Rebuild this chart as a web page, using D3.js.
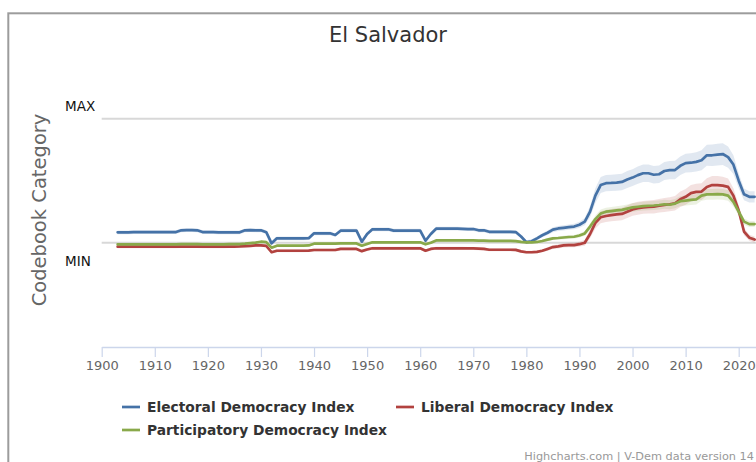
<!DOCTYPE html>
<html>
<head>
<meta charset="utf-8">
<script src="https://cdn.jsdelivr.net/npm/d3@7"></script>
<style>
  html, body { margin: 0; padding: 0; background: #fff; }
  svg { display: block; }
</style>
</head>
<body>
<div id="chart"></div>
<script>
// ---------------- DATA ----------------
const title = "El Salvador";
const yAxisTitle = "Codebook Category";
const firstYear = 1903;
const xTickYears = [1900, 1910, 1920, 1930, 1940, 1950, 1960, 1970, 1980, 1990, 2000, 2010, 2020];
const yTickValues = [0, 1];
const yTickLabels = ["MIN", "MAX"];
const seriesNames = ["Electoral Democracy Index", "Liberal Democracy Index", "Participatory Democracy Index"];
const seriesColors = ["#4572a7", "#b2423f", "#89a94a"];

// one value per year, 1903 .. 2023
const electoral = [
  0.084, 0.084, 0.084, 0.085, 0.085, 0.085, 0.085,                      // 1903-1909
  0.085, 0.085, 0.085, 0.085, 0.086, 0.100, 0.102, 0.102, 0.100, 0.086, // 1910-1919
  0.085, 0.085, 0.084, 0.084, 0.083, 0.083, 0.084, 0.100, 0.101, 0.100, // 1920-1929
  0.100, 0.085, -0.005, 0.035, 0.035, 0.035, 0.035, 0.035, 0.035, 0.036, // 1930-1939
  0.076, 0.076, 0.076, 0.076, 0.062, 0.097, 0.097, 0.097, 0.097, 0.008, // 1940-1949
  0.070, 0.108, 0.108, 0.108, 0.108, 0.097, 0.097, 0.097, 0.097, 0.097, // 1950-1959
  0.097, 0.016, 0.070, 0.113, 0.113, 0.113, 0.113, 0.113, 0.112, 0.110, // 1960-1969
  0.110, 0.100, 0.100, 0.088, 0.088, 0.088, 0.088, 0.088, 0.086, 0.050, // 1970-1979
  0.005, 0.012, 0.035, 0.060, 0.080, 0.105, 0.115, 0.120, 0.125, 0.130, // 1980-1989
  0.145, 0.170, 0.250, 0.380, 0.465, 0.480, 0.482, 0.485, 0.490, 0.510, // 1990-1999
  0.525, 0.545, 0.560, 0.560, 0.548, 0.552, 0.578, 0.585, 0.586, 0.620, // 2000-2009
  0.642, 0.645, 0.652, 0.665, 0.705, 0.705, 0.710, 0.715, 0.690, 0.630, // 2010-2019
  0.500, 0.390, 0.370, 0.370                                            // 2020-2023
];
const liberal = [
  -0.032, -0.032, -0.032, -0.032, -0.032, -0.032, -0.032,
  -0.032, -0.032, -0.032, -0.032, -0.032, -0.031, -0.031, -0.031, -0.031, -0.032,
  -0.032, -0.032, -0.032, -0.032, -0.031, -0.031, -0.030, -0.028, -0.025, -0.022,
  -0.021, -0.025, -0.077, -0.065, -0.065, -0.065, -0.065, -0.065, -0.065, -0.064,
  -0.059, -0.059, -0.059, -0.059, -0.059, -0.050, -0.050, -0.050, -0.050, -0.068,
  -0.055, -0.045, -0.045, -0.045, -0.045, -0.045, -0.045, -0.045, -0.045, -0.045,
  -0.045, -0.065, -0.050, -0.045, -0.045, -0.045, -0.045, -0.045, -0.045, -0.046,
  -0.046, -0.048, -0.050, -0.057, -0.057, -0.057, -0.057, -0.057, -0.058, -0.070,
  -0.077, -0.077, -0.074, -0.065, -0.050, -0.035, -0.030, -0.022, -0.020, -0.019,
  -0.012, 0.000, 0.070, 0.160, 0.205, 0.215, 0.222, 0.228, 0.232, 0.250,
  0.268, 0.278, 0.285, 0.288, 0.290, 0.298, 0.304, 0.310, 0.318, 0.350,
  0.370, 0.400, 0.410, 0.412, 0.450, 0.465, 0.465, 0.460, 0.450, 0.380,
  0.260, 0.090, 0.040, 0.025
];
const participatory = [
  -0.013, -0.013, -0.013, -0.013, -0.013, -0.013, -0.013,
  -0.013, -0.013, -0.013, -0.013, -0.013, -0.012, -0.012, -0.012, -0.012, -0.013,
  -0.013, -0.013, -0.013, -0.013, -0.012, -0.012, -0.011, -0.008, -0.004, 0.000,
  0.008, 0.005, -0.040, -0.024, -0.024, -0.024, -0.024, -0.024, -0.024, -0.022,
  -0.008, -0.008, -0.008, -0.008, -0.008, -0.006, -0.006, -0.006, -0.006, -0.024,
  -0.010, 0.003, 0.003, 0.003, 0.003, 0.003, 0.003, 0.003, 0.003, 0.003,
  0.003, -0.013, 0.000, 0.018, 0.018, 0.018, 0.018, 0.018, 0.018, 0.018,
  0.018, 0.017, 0.016, 0.014, 0.014, 0.014, 0.014, 0.014, 0.013, 0.006,
  0.003, 0.003, 0.006, 0.014, 0.025, 0.035, 0.038, 0.042, 0.046, 0.048,
  0.058, 0.075, 0.130, 0.190, 0.235, 0.250, 0.255, 0.260, 0.265, 0.275,
  0.285, 0.290, 0.295, 0.298, 0.300, 0.304, 0.310, 0.306, 0.315, 0.335,
  0.340, 0.345, 0.350, 0.380, 0.390, 0.390, 0.392, 0.390, 0.380, 0.330,
  0.250, 0.170, 0.150, 0.150
];
// half-width of the confidence band, one value per year, 1903 .. 2023
const electoralBand = [
  0.015, 0.015, 0.015, 0.015, 0.015, 0.015, 0.015,
  0.015, 0.015, 0.015, 0.015, 0.015, 0.015, 0.015, 0.015, 0.015, 0.015,
  0.015, 0.015, 0.015, 0.015, 0.015, 0.015, 0.015, 0.015, 0.015, 0.015,
  0.015, 0.015, 0.015, 0.015, 0.015, 0.015, 0.015, 0.015, 0.015, 0.015,
  0.015, 0.015, 0.015, 0.015, 0.015, 0.015, 0.015, 0.015, 0.015, 0.015,
  0.015, 0.015, 0.015, 0.015, 0.015, 0.015, 0.015, 0.015, 0.015, 0.015,
  0.015, 0.015, 0.015, 0.015, 0.015, 0.015, 0.015, 0.015, 0.015, 0.015,
  0.015, 0.015, 0.015, 0.015, 0.015, 0.015, 0.015, 0.015, 0.015, 0.015,
  0.015, 0.015, 0.016, 0.017, 0.018, 0.020, 0.020, 0.021, 0.021, 0.022,
  0.024, 0.030, 0.045, 0.060, 0.065, 0.066, 0.066, 0.067, 0.067, 0.068,
  0.068, 0.069, 0.070, 0.070, 0.070, 0.071, 0.072, 0.073, 0.074, 0.075,
  0.076, 0.077, 0.078, 0.080, 0.085, 0.086, 0.087, 0.088, 0.085, 0.075,
  0.060, 0.048, 0.045, 0.045
];
const liberalBand = [
  0.012, 0.012, 0.012, 0.012, 0.012, 0.012, 0.012,
  0.012, 0.012, 0.012, 0.012, 0.012, 0.012, 0.012, 0.012, 0.012, 0.012,
  0.012, 0.012, 0.012, 0.012, 0.012, 0.012, 0.012, 0.012, 0.012, 0.012,
  0.012, 0.012, 0.012, 0.012, 0.012, 0.012, 0.012, 0.012, 0.012, 0.012,
  0.012, 0.012, 0.012, 0.012, 0.012, 0.012, 0.012, 0.012, 0.012, 0.012,
  0.012, 0.012, 0.012, 0.012, 0.012, 0.012, 0.012, 0.012, 0.012, 0.012,
  0.012, 0.012, 0.012, 0.012, 0.012, 0.012, 0.012, 0.012, 0.012, 0.012,
  0.012, 0.012, 0.012, 0.012, 0.012, 0.012, 0.012, 0.012, 0.012, 0.012,
  0.012, 0.012, 0.012, 0.013, 0.014, 0.016, 0.016, 0.017, 0.017, 0.018,
  0.019, 0.024, 0.035, 0.045, 0.048, 0.048, 0.049, 0.050, 0.050, 0.050,
  0.051, 0.052, 0.052, 0.053, 0.054, 0.055, 0.056, 0.057, 0.058, 0.062,
  0.064, 0.066, 0.066, 0.067, 0.070, 0.072, 0.072, 0.072, 0.068, 0.060,
  0.045, 0.030, 0.025, 0.025
];
const participatoryBand = [
  0.010, 0.010, 0.010, 0.010, 0.010, 0.010, 0.010,
  0.010, 0.010, 0.010, 0.010, 0.010, 0.010, 0.010, 0.010, 0.010, 0.010,
  0.010, 0.010, 0.010, 0.010, 0.010, 0.010, 0.010, 0.010, 0.010, 0.010,
  0.010, 0.010, 0.010, 0.010, 0.010, 0.010, 0.010, 0.010, 0.010, 0.010,
  0.010, 0.010, 0.010, 0.010, 0.010, 0.010, 0.010, 0.010, 0.010, 0.010,
  0.010, 0.010, 0.010, 0.010, 0.010, 0.010, 0.010, 0.010, 0.010, 0.010,
  0.010, 0.010, 0.010, 0.010, 0.010, 0.010, 0.010, 0.010, 0.010, 0.010,
  0.010, 0.010, 0.010, 0.010, 0.010, 0.010, 0.010, 0.010, 0.010, 0.010,
  0.010, 0.010, 0.010, 0.011, 0.012, 0.013, 0.013, 0.014, 0.014, 0.015,
  0.016, 0.018, 0.025, 0.030, 0.032, 0.032, 0.033, 0.033, 0.034, 0.034,
  0.035, 0.035, 0.035, 0.036, 0.036, 0.036, 0.037, 0.037, 0.038, 0.040,
  0.040, 0.040, 0.041, 0.042, 0.043, 0.044, 0.044, 0.044, 0.042, 0.038,
  0.032, 0.026, 0.024, 0.024
];
const creditText = "Highcharts.com | V-Dem data version 14";

// ---------------- CHART ----------------
const W = 756, H = 462;
const svg = d3.select("#chart").append("svg")
  .attr("width", W).attr("height", H)
  .style("font-family", "'DejaVu Sans', Verdana, sans-serif");

// outer frame (chart is cropped at the right)
svg.append("rect")
  .attr("x", 8.3).attr("y", 13.3).attr("width", W + 20).attr("height", H + 20)
  .attr("fill", "none").attr("stroke", "#9c9c9c").attr("stroke-width", 2);

const x = d3.scaleLinear().domain([1900, 2020]).range([101.7, 738.7]);
const y = d3.scaleLinear().domain([0, 1]).range([242.7, 118.7]);

// title
svg.append("text")
  .attr("x", 388).attr("y", 42)
  .attr("text-anchor", "middle")
  .attr("font-size", 21).attr("fill", "#333")
  .text(title);

// y-axis title
svg.append("text")
  .attr("transform", "translate(46,210) rotate(-90)")
  .attr("text-anchor", "middle")
  .attr("font-size", 19.5).attr("fill", "#666")
  .text(yAxisTitle);

// gridlines
svg.append("g").selectAll("line").data(yTickValues).join("line")
  .attr("x1", x(1900)).attr("x2", W + 10)
  .attr("y1", d => y(d)).attr("y2", d => y(d))
  .attr("stroke", "#d8d8d8").attr("stroke-width", 2);

// y labels
svg.append("g").selectAll("text").data(yTickValues).join("text")
  .attr("x", 65)
  .attr("y", (d, i) => i === 1 ? y(d) - 8 : y(d) + 23)
  .attr("font-size", 13.5).attr("fill", "#111")
  .text((d, i) => yTickLabels[i]);

// x axis
const xAxisScale = x.copy().domain([1900, 2026]).range([x(1900), x(2026)]);
const xAxis = d3.axisBottom(xAxisScale)
  .tickValues(xTickYears).tickSize(10).tickSizeOuter(0)
  .tickFormat(d3.format("d"));
const gx = svg.append("g").attr("transform", "translate(0,347)").call(xAxis);
gx.select(".domain").attr("stroke", "#ccd6eb").attr("stroke-width", 1.5);
gx.selectAll(".tick line").attr("stroke", "#ccd6eb").attr("stroke-width", 1.2);
gx.selectAll(".tick text")
  .attr("fill", "#666").attr("font-size", 13).attr("dy", 0).attr("y", 23)
  .style("font-family", "'DejaVu Sans', Verdana, sans-serif");

// series
const years = d3.range(firstYear, firstYear + electoral.length);
const series = [
  { name: seriesNames[0], values: electoral, band: electoralBand, color: seriesColors[0] },
  { name: seriesNames[1], values: liberal, band: liberalBand, color: seriesColors[1] },
  { name: seriesNames[2], values: participatory, band: participatoryBand, color: seriesColors[2] }
];

svg.append("clipPath").attr("id", "plotclip")
  .append("rect").attr("x", 100).attr("y", 60).attr("width", W).attr("height", 287);

const plot = svg.append("g").attr("clip-path", "url(#plotclip)");

const area = d3.area()
  .x((d, i) => x(years[i]))
  .y0(d => y(d[0] - d[1]))
  .y1(d => y(d[0] + d[1]))
  .curve(d3.curveLinear);
const line = d3.line()
  .x((d, i) => x(years[i]))
  .y(d => y(d));

series.forEach(s => {
  plot.append("path")
    .datum(s.values.map((v, i) => [v, s.band[i]]))
    .attr("d", area)
    .attr("fill", s.color).attr("fill-opacity", 0.16);
});
series.forEach(s => {
  plot.append("path")
    .datum(s.values)
    .attr("d", line)
    .attr("fill", "none")
    .attr("stroke", s.color).attr("stroke-width", 2.7)
    .attr("stroke-linejoin", "round").attr("stroke-linecap", "round");
});

// legend
const legendItems = [
  { s: series[0], lx: 122, ly: 407 },
  { s: series[1], lx: 396, ly: 407 },
  { s: series[2], lx: 122, ly: 430 }
];
const lg = svg.append("g");
legendItems.forEach(it => {
  lg.append("line")
    .attr("x1", it.lx).attr("x2", it.lx + 18)
    .attr("y1", it.ly).attr("y2", it.ly)
    .attr("stroke", it.s.color).attr("stroke-width", 2.7);
  lg.append("text")
    .attr("x", it.lx + 25).attr("y", it.ly + 5)
    .attr("font-size", 13.8).attr("font-weight", "bold").attr("fill", "#333")
    .text(it.s.name);
});

// credits
svg.append("text")
  .attr("x", 754).attr("y", 460)
  .attr("text-anchor", "end")
  .attr("font-size", 11.3).attr("fill", "#999")
  .text(creditText);
</script>
</body>
</html>
